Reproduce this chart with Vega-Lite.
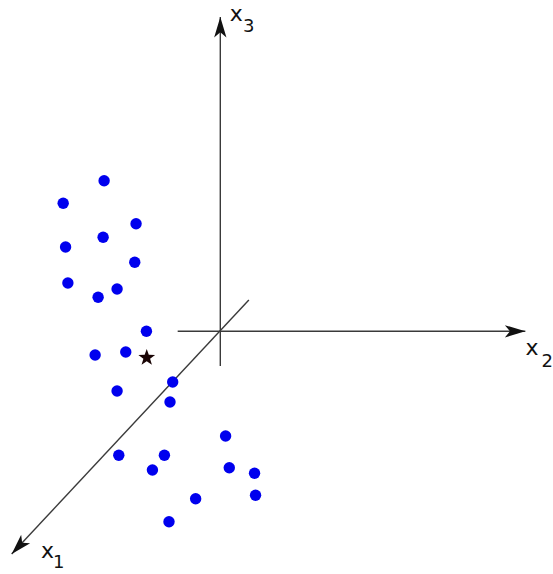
{
  "$schema": "https://vega.github.io/schema/vega-lite/v6.json",
  "width": 553,
  "height": 574,
  "autosize": {"type": "fit", "contains": "padding"},
  "padding": 0,
  "background": "white",
  "config": {"view": {"stroke": null}},
  "datasets": {
    "pts": [
      {"kind": "sample", "u": -11.64, "v": 15.06}, {"kind": "sample", "u": -15.74, "v": 12.8}, {"kind": "sample", "u": -8.44, "v": 10.76},
      {"kind": "sample", "u": -11.74, "v": 9.4}, {"kind": "sample", "u": -15.5, "v": 8.43}, {"kind": "sample", "u": -8.57, "v": 6.9},
      {"kind": "sample", "u": -15.27, "v": 4.83}, {"kind": "sample", "u": -10.34, "v": 4.23}, {"kind": "sample", "u": -12.24, "v": 3.4},
      {"kind": "sample", "u": -7.4, "v": 0.0}, {"kind": "sample", "u": -12.54, "v": -2.37}, {"kind": "sample", "u": -9.47, "v": -2.07},
      {"kind": "sample", "u": -4.77, "v": -5.07}, {"kind": "sample", "u": -10.34, "v": -5.97}, {"kind": "sample", "u": -5.04, "v": -7.07},
      {"kind": "sample", "u": 0.53, "v": -10.47}, {"kind": "sample", "u": -10.17, "v": -12.4}, {"kind": "sample", "u": -5.6, "v": -12.4},
      {"kind": "sample", "u": -6.8, "v": -13.87}, {"kind": "sample", "u": 0.9, "v": -13.64}, {"kind": "sample", "u": 3.43, "v": -14.2},
      {"kind": "sample", "u": -2.47, "v": -16.74}, {"kind": "sample", "u": 3.53, "v": -16.4}, {"kind": "sample", "u": -5.14, "v": -19.04},
      {"kind": "query", "u": -7.37, "v": -2.64}
    ],
    "axes": [
      {"axis": "x1", "u1": 2.86, "v1": 3.13, "u2": -20.9, "v2": -22.27},
      {"axis": "x2", "u1": -4.27, "v1": 0, "u2": 30.56, "v2": 0},
      {"axis": "x3", "u1": 0, "v1": -3.47, "u2": 0, "v2": 31.43}
    ],
    "txt": [
      {"axis": "x1", "main": "x", "sub": "1", "u": -17.3, "v": -22.64, "su": -16.2, "sv": -23.7},
      {"axis": "x2", "main": "x", "sub": "2", "u": 31.23, "v": -2.37, "su": 32.75, "sv": -3.54},
      {"axis": "x3", "main": "x", "sub": "3", "u": 1.6, "v": 31.06, "su": 2.85, "sv": 29.96}
    ]
  },
  "layer": [
    {
      "data": {"name": "axes"},
      "mark": {"type": "rule", "color": "#3a3a3a", "strokeWidth": 1.4},
      "encoding": {
        "x": {"field": "u1", "type": "quantitative", "scale": {"domain": [-22.07, 33.23], "nice": false, "zero": false}, "axis": null},
        "y": {"field": "v1", "type": "quantitative", "scale": {"domain": [-24.27, 33.13], "nice": false, "zero": false}, "axis": null},
        "x2": {"field": "u2"},
        "y2": {"field": "v2"}
      }
    },
    {
      "data": {"name": "axes"},
      "transform": [{"filter": "datum.axis === 'x1'"}],
      "mark": {"type": "point", "shape": "M0,0L0.6,2L0,1.5L-0.6,2Z", "filled": true, "color": "#111111", "opacity": 1, "size": 420, "angle": 223},
      "encoding": {
        "x": {"field": "u2", "type": "quantitative"},
        "y": {"field": "v2", "type": "quantitative"}
      }
    },
    {
      "data": {"name": "axes"},
      "transform": [{"filter": "datum.axis === 'x2'"}],
      "mark": {"type": "point", "shape": "M0,0L0.6,2L0,1.5L-0.6,2Z", "filled": true, "color": "#111111", "opacity": 1, "size": 420, "angle": 90},
      "encoding": {
        "x": {"field": "u2", "type": "quantitative"},
        "y": {"field": "v2", "type": "quantitative"}
      }
    },
    {
      "data": {"name": "axes"},
      "transform": [{"filter": "datum.axis === 'x3'"}],
      "mark": {"type": "point", "shape": "M0,0L0.6,2L0,1.5L-0.6,2Z", "filled": true, "color": "#111111", "opacity": 1, "size": 420, "angle": 0},
      "encoding": {
        "x": {"field": "u2", "type": "quantitative"},
        "y": {"field": "v2", "type": "quantitative"}
      }
    },
    {
      "data": {"name": "pts"},
      "transform": [{"filter": "datum.kind === 'sample'"}],
      "mark": {"type": "circle", "color": "#0000ee", "opacity": 1, "size": 130},
      "encoding": {
        "x": {"field": "u", "type": "quantitative"},
        "y": {"field": "v", "type": "quantitative"}
      }
    },
    {
      "data": {"name": "txt"},
      "mark": {"type": "text", "font": "DejaVu Sans", "fontSize": 22, "align": "center", "baseline": "alphabetic", "fill": "#111111"},
      "encoding": {
        "x": {"field": "u", "type": "quantitative"},
        "y": {"field": "v", "type": "quantitative"},
        "text": {"field": "main", "type": "nominal"}
      }
    },
    {
      "data": {"name": "txt"},
      "mark": {"type": "text", "font": "DejaVu Sans", "fontSize": 18, "align": "center", "baseline": "alphabetic", "fill": "#111111"},
      "encoding": {
        "x": {"field": "su", "type": "quantitative"},
        "y": {"field": "sv", "type": "quantitative"},
        "text": {"field": "sub", "type": "nominal"}
      }
    },
    {
      "data": {"name": "pts"},
      "transform": [{"filter": "datum.kind === 'query'"}],
      "mark": {"type": "point", "shape": "M0,-1L0.235,-0.324L0.951,-0.309L0.38,0.124L0.588,0.809L0,0.4L-0.588,0.809L-0.38,0.124L-0.951,-0.309L-0.235,-0.324Z", "filled": true, "color": "#1a0505", "opacity": 1, "size": 310},
      "encoding": {
        "x": {"field": "u", "type": "quantitative"},
        "y": {"field": "v", "type": "quantitative"}
      }
    }
  ]
}
